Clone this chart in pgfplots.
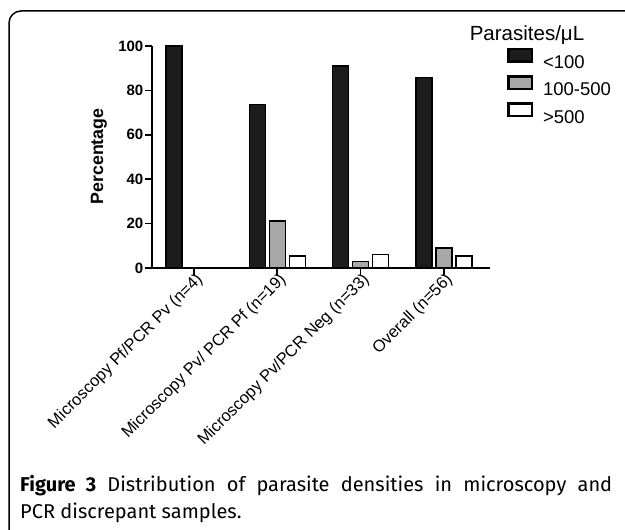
\documentclass[border=0pt]{standalone}
\usepackage{graphicx}
\usepackage{pgfplots}
\pgfplotsset{compat=1.18}
\usepackage{fontspec}
\setmainfont{Liberation Sans}
\newfontfamily\capfont{Fira Sans}
\definecolor{barblack}{HTML}{1C1C1C}
\definecolor{bargray}{HTML}{A8A8A8}
\begin{document}
\begin{tikzpicture}[x=1pt,y=1pt]
\useasboundingbox (0,0) rectangle (625,530);
\draw[line width=1.5pt, rounded corners=12pt] (9,-20) |- (700,519);
\begin{axis}[
  at={(152pt,262pt)}, anchor=south west,
  scale only axis, width=338pt, height=222pt,
  xmin=-0.505, xmax=3.555, ymin=0, ymax=100,
  clip=false,
  axis x line*=bottom, axis y line*=left,
  axis line style={line width=1.7pt, -},
  every tick/.style={black, line width=1.7pt},
  tick align=outside, major tick length=7pt,
  xtick={0,1,2,3},
  xticklabels={Microscopy Pf/PCR Pv (n=4), Microscopy Pv/ PCR Pf (n=19), Microscopy Pv/PCR Neg (n=33), Overall (n=56)},
  xticklabel style={rotate=45, anchor=east, font=\fontsize{16.5}{16.5}\selectfont, inner sep=1pt, yshift=-6pt, xshift=4pt},
  ytick={0,20,40,60,80,100},
  /pgf/number format/assume math mode=true,
  yticklabel style={font=\bfseries\fontsize{15}{15}\selectfont, inner sep=1.5pt},
  ybar=4pt, bar width=16pt,
  legend image code/.code={\draw[#1, line width=2.5pt] (0pt,1.3pt) rectangle (23.5pt,13.8pt);},
  legend style={draw=none, fill=none, at={(axis description cs:1.05,0.993)}, anchor=north west,
    font=\fontsize{18.5}{18.5}\selectfont, inner sep=0pt, row sep=3pt},
  legend cell align=left,
]
\addplot[fill=barblack, draw=black, line width=1.5pt] coordinates {(0,100) (1,73.7) (2,90.9) (3,85.7)};
\addplot[fill=bargray, draw=black, line width=1.5pt] coordinates {(0,0) (1,21.1) (2,3.0) (3,8.9)};
\addplot[fill=white, draw=black, line width=1.5pt] coordinates {(0,0) (1,5.3) (2,6.1) (3,5.4)};
\legend{\hspace{8pt}<100, \hspace{8pt}100-500, \hspace{8pt}>500}
\end{axis}
\node[rotate=90, anchor=center, inner sep=0pt] at (99,373.5) {\resizebox{96pt}{!}{\bfseries Percentage}};
\node[font=\fontsize{20.5}{20.5}\selectfont, anchor=center] at (527,495) {Parasites/μL};
\node[font=\capfont\fontsize{20}{20}\selectfont, anchor=base west, inner sep=0pt] at (20,38) {\makebox[592pt][s]{\textbf{Figure 3} Distribution of parasite densities in microscopy and}};
\node[font=\capfont\fontsize{20}{20}\selectfont, anchor=base west, inner sep=0pt] at (20,11) {PCR discrepant samples.};
\end{tikzpicture}
\end{document}
